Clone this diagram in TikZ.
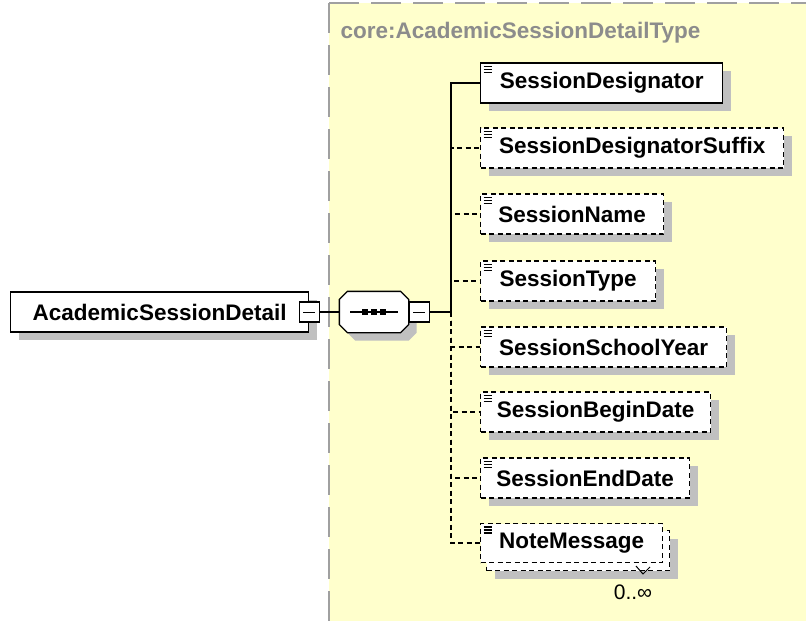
\documentclass[tikz,border=0pt]{standalone}
\usepackage{fontspec}
\setmainfont{Liberation Sans}
\usepackage{xcolor}
\usepackage{tikz}
\usetikzlibrary{shadows, positioning}

\definecolor{typebg}{HTML}{FFFFCC}
\definecolor{typeline}{HTML}{A0A0A0}
\definecolor{typetext}{HTML}{8C8C8C}
\definecolor{shadowgray}{HTML}{C0C0C0}

\begin{document}
\begin{tikzpicture}[
                x=1pt, y=-1pt,
                line width=1.3pt,
                shade/.style={drop shadow={shadow xshift=8pt, shadow yshift=-8pt,
                    fill=shadowgray, opacity=1}},
                box/.style={draw, fill=white, minimum height=40pt, inner sep=0pt,
                    font=\bfseries\fontsize{22.5}{26}\selectfont},
                elem/.style={box, shade},
                optional/.style={dash pattern=on 5pt off 3.5pt},
                leaf/.style={path picture={
                    \foreach \d in {3.5,6.5,9.5}
                        \draw[line width=1.1pt, solid]
                            ([xshift=3pt, yshift=-\d pt]path picture bounding box.north west) -- ++(8pt,0);}},
                toggle/.style={draw, solid, fill=white, minimum size=20pt, inner sep=0pt,
                    path picture={\draw[line width=1pt]
                        ([xshift=4pt]path picture bounding box.west) --
                        ([xshift=-4pt]path picture bounding box.east);}},
                seq/.style={inner sep=0pt, minimum width=68pt, minimum height=40pt}
            ]
                \useasboundingbox (0,0) rectangle (806,621);
                \clip (0,0) rectangle (806,621);

                % Type area
                \fill[typebg] (329,3) rectangle (830,640);
                \draw[typeline, line width=2pt, dash pattern=on 30pt off 12pt] (329,3) -- (830,3);
                \draw[typeline, line width=2pt, dash pattern=on 30pt off 12pt] (329,3) -- (329,640);
                \node[anchor=west, text=typetext, inner sep=0pt,
                    font=\bfseries\fontsize{22.5}{26}\selectfont] (typename) at (340,33) {core:AcademicSessionDetailType};

                % Nodes
                \node[elem, anchor=west, minimum width=298pt] (root) at (10,312) {AcademicSessionDetail};
                \node[seq] (seq) at (374,312) {};
                \filldraw[fill=white, shade]
                    ([xshift=8pt]seq.north west) -- ([xshift=-8pt]seq.north east) --
                    ([yshift=-8pt]seq.north east) -- ([yshift=8pt]seq.south east) --
                    ([xshift=-8pt]seq.south east) -- ([xshift=8pt]seq.south west) --
                    ([yshift=8pt]seq.south west) -- ([yshift=-8pt]seq.north west) -- cycle;
                \node[toggle] (roottog) at (root.east) {};
                \node[toggle, anchor=west] (seqtog) at (seq.east) {};
                \coordinate (trunk) at (451,312);

                \node[elem, leaf, anchor=west, minimum width=242pt] (designator) at (480,83) {SessionDesignator};
                \node[elem, leaf, optional, anchor=west, minimum width=303pt] (suffix) at (480,148) {SessionDesignatorSuffix};
                \node[elem, leaf, optional, anchor=west, minimum width=183pt] (name) at (480,214) {SessionName};
                \node[elem, leaf, optional, anchor=west, minimum width=175pt] (type) at (480,281) {SessionType};
                \node[elem, leaf, optional, anchor=west, minimum width=246pt] (schoolyear) at (480,347) {SessionSchoolYear};
                \node[elem, leaf, optional, anchor=west, minimum width=230pt] (begindate) at (480,412) {SessionBeginDate};
                \node[elem, leaf, optional, anchor=west, minimum width=209pt] (enddate) at (480,478) {SessionEndDate};
                \node[elem, optional, anchor=north west, minimum width=183pt] (noteback) at (486,530) {};
                \node[box, leaf, optional, anchor=west, minimum width=182pt, minimum height=39pt] (note) at (480,543) {NoteMessage};
                \node[font=\fontsize{21}{24}\selectfont, inner sep=0pt] (notemult) at (633,592) {0..∞};

                % Sequence mark
                \draw ([xshift=-24pt]seq.center) -- ([xshift=24pt]seq.center);
                \foreach \dx in {-9,0,9}
                    \fill ([xshift=\dx pt]seq.center) +(-3pt,-3pt) rectangle +(3pt,3pt);

                % Edges
                \draw (roottog) -- (seq);
                \draw (seqtog) -- (trunk);
                \draw (trunk) |- (designator);
                \draw[optional] (trunk) |- (suffix);
                \draw[optional] (trunk) |- (name);
                \draw[optional] (trunk) |- (type);
                \draw[optional] (trunk) |- (schoolyear);
                \draw[optional] (trunk) |- (begindate);
                \draw[optional] (trunk) |- (enddate);
                \draw[optional] (trunk) |- (note);
                \draw[line width=1pt] (636,566) -- (643,574) -- (650,567);
            \end{tikzpicture}
\end{document}
